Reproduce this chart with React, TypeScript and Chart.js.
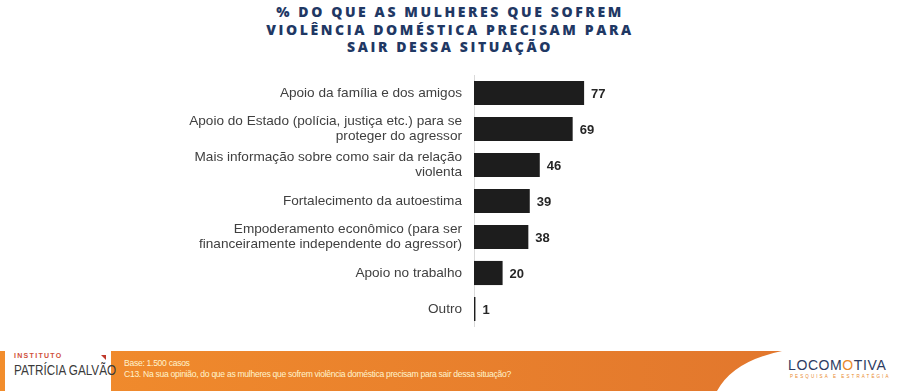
import React, { useEffect, useRef } from "react";
import { Chart, registerables } from "chart.js";

Chart.register(...registerables);

const titleLines = [
  "% DO QUE AS MULHERES QUE SOFREM",
  "VIOLÊNCIA DOMÉSTICA PRECISAM PARA",
  "SAIR DESSA SITUAÇÃO",
];

const categories: (string | string[])[] = [
  "Apoio da família e dos amigos",
  ["Apoio do Estado (polícia, justiça etc.) para se", "proteger do agressor"],
  ["Mais informação sobre como sair da relação", "violenta"],
  "Fortalecimento da autoestima",
  ["Empoderamento econômico (para ser", "financeiramente independente do agressor)"],
  "Apoio no trabalho",
  "Outro",
];

const values = [77, 69, 46, 39, 38, 20, 1];

const footerBase = "Base: 1.500 casos";
const footerQuestion =
  "C13. Na sua opinião, do que as mulheres que sofrem violência doméstica precisam para sair dessa situação?";

const valueLabelPlugin = {
  id: "valueLabels",
  afterDatasetsDraw(chart: any) {
    const ctx = chart.ctx;
    const meta = chart.getDatasetMeta(0);
    ctx.save();
    ctx.font = "bold 13px 'Liberation Sans', Arial, sans-serif";
    ctx.fillStyle = "#262626";
    ctx.textAlign = "left";
    ctx.textBaseline = "middle";
    meta.data.forEach((el: any, i: number) => {
      ctx.fillText(String(values[i]), el.x + 7, el.y + 1);
    });
    ctx.restore();
  },
};

function BarChart() {
  const ref = useRef<HTMLCanvasElement | null>(null);
  useEffect(() => {
    if (!ref.current) return;
    const chart = new Chart(ref.current, {
      type: "bar",
      data: {
        labels: categories,
        datasets: [
          {
            data: values,
            backgroundColor: "#1d1d1d",
            borderWidth: 0,
            categoryPercentage: 1,
            barPercentage: 0.67,
          },
        ],
      },
      options: {
        indexAxis: "y",
        animation: false,
        responsive: false,
        layout: { padding: { left: 0, right: 283, top: 0, bottom: 0 } },
        plugins: {
          legend: { display: false },
          tooltip: { enabled: false },
          title: { display: false },
        },
        scales: {
          x: {
            display: false,
            min: 0,
            max: 100,
          },
          y: {
            afterFit(scale: any) {
              scale.width = 474;
              scale.paddingTop = 0;
              scale.paddingBottom = 0;
              scale.paddingLeft = 0;
              scale.paddingRight = 0;
            },
            grid: { display: false, drawTicks: false },
            border: { display: true, color: "#d9d9d9", width: 1 },
            ticks: {
              padding: 12,
              color: "#404040",
              font: { family: "'Liberation Sans', Arial, sans-serif", size: 13.6, lineHeight: 1.12 },
            },
          },
        },
      },
      plugins: [valueLabelPlugin],
    });
    return () => chart.destroy();
  }, []);
  return (
    <canvas
      ref={ref}
      width={900}
      height={252}
      style={{ position: "absolute", left: 0, top: 75, width: 900, height: 252 }}
    />
  );
}

export default function App() {
  return (
    <div
      style={{
        position: "fixed",
        left: 0,
        top: 0,
        width: 900,
        height: 391,
        background: "#ffffff",
        overflow: "hidden",
        fontFamily: "'Liberation Sans', Arial, sans-serif",
      }}
    >
      <div
        style={{
          position: "absolute",
          left: 0,
          top: 3,
          width: 900,
          textAlign: "center",
          fontFamily: "'Open Sans', sans-serif",
          fontWeight: 800,
          fontSize: 14,
          lineHeight: "17.5px",
          letterSpacing: "2.6px",
          color: "#1f3864",
        }}
      >
        {titleLines.map((l, i) => (
          <div key={i}>{l}</div>
        ))}
      </div>

      <BarChart />

      <svg
        width={900}
        height={40}
        style={{ position: "absolute", left: 0, top: 351 }}
      >
        <defs>
          <linearGradient id="og" x1="0" y1="0" x2="1" y2="0">
            <stop offset="0" stopColor="#f28d2c" />
            <stop offset="1" stopColor="#e2772d" />
          </linearGradient>
        </defs>
        <path d="M0,0 L782,0 Q733,10 717,40 L0,40 Z" fill="url(#og)" />
        <rect x={5} y={0} width={106} height={40} fill="#ffffff" />
        <polygon points="101,4 106,4 106,9" fill="#c0392b" />
      </svg>

      <div
        style={{
          position: "absolute",
          left: 14,
          top: 352,
          fontSize: 7,
          fontWeight: 700,
          letterSpacing: "1.3px",
          color: "#d0503a",
        }}
      >
        INSTITUTO
      </div>
      <div
        style={{
          position: "absolute",
          left: 14,
          top: 361,
          fontSize: 15,
          color: "#3a3a3a",
          whiteSpace: "nowrap",
          transform: "scaleX(0.78)",
          transformOrigin: "left top",
        }}
      >
        PATRÍCIA GALVÃO
      </div>

      <div
        style={{
          position: "absolute",
          left: 124,
          top: 358,
          fontSize: 8.6,
          lineHeight: "11px",
          color: "#fff3cc",
          whiteSpace: "nowrap",
          letterSpacing: "-0.3px",
        }}
      >
        <div>{footerBase}</div>
        <div>{footerQuestion}</div>
      </div>

      <div
        style={{
          position: "absolute",
          left: 788,
          top: 357,
          fontSize: 14,
          letterSpacing: "0.6px",
          color: "#2d3b62",
          whiteSpace: "nowrap",
          fontFamily: "'Liberation Sans', Arial, sans-serif",
        }}
      >
        LOCOM<span style={{ color: "#e98a2c" }}>O</span>TIVA
      </div>
      <div
        style={{
          position: "absolute",
          left: 790,
          top: 374,
          fontSize: 4.5,
          letterSpacing: "2.1px",
          color: "#e98a2c",
          whiteSpace: "nowrap",
        }}
      >
        PESQUISA E ESTRATÉGIA
      </div>
    </div>
  );
}
